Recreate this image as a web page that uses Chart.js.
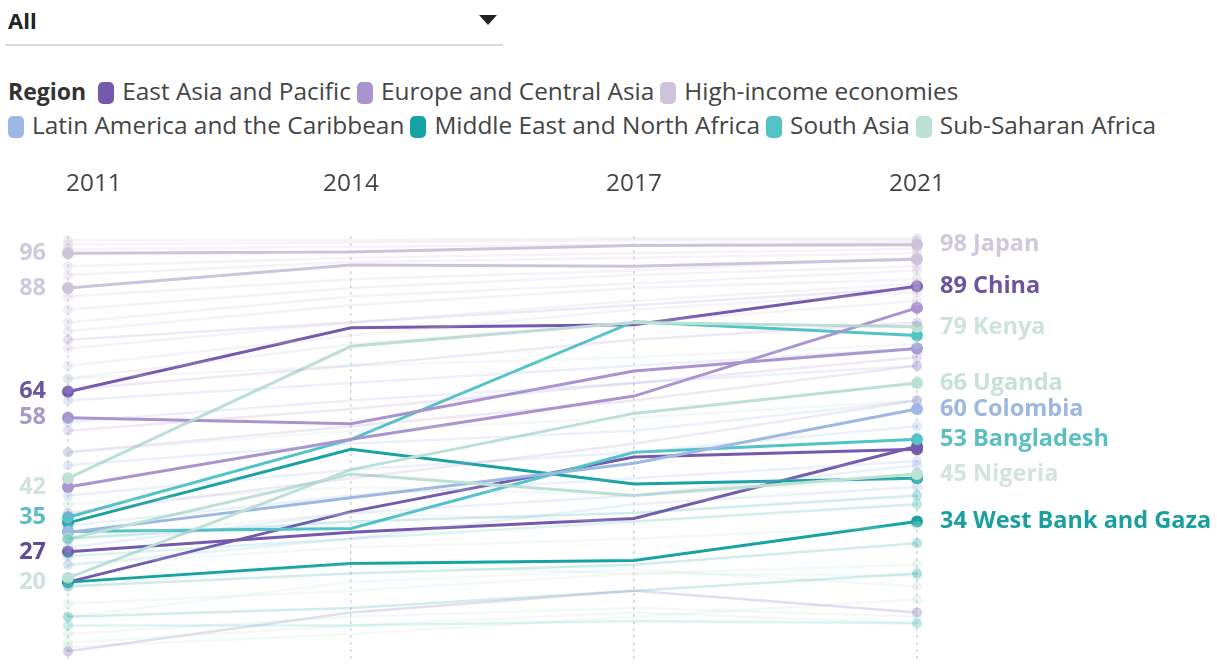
<!DOCTYPE html>
<html>
<head>
<meta charset="utf-8">
<script src="https://cdn.jsdelivr.net/npm/chart.js@4.4.0/dist/chart.umd.min.js"></script>
<style>
  body { margin: 0; background: #fff; font-family: "Open Sans", sans-serif; width: 1217px; height: 666px; overflow: hidden; position: relative; }
  #chart { position: absolute; left: 0; top: 0; }
  .select { position: absolute; left: 5px; top: 0; width: 498px; height: 44px; border-bottom: 2px solid #dcdcdc; }
  .select span { position: absolute; left: 3px; top: 5px; font-weight: 700; font-size: 22px; color: #222; }
  .caret { position: absolute; right: 6px; top: 15px; width: 0; height: 0; border-left: 9px solid transparent; border-right: 9px solid transparent; border-top: 10px solid #222; }
  .legend { position: absolute; left: 8px; top: 74px; width: 1209px; font-size: 24.4px; color: #444; line-height: 34px; }
  .legend b { color: #333; margin-right: 12px; font-size: 23px; }
  .item { display: inline-block; white-space: nowrap; margin-right: 6px; }
  .sw { display: inline-block; width: 16px; height: 22px; border-radius: 5px; vertical-align: -4px; margin-right: 8px; }
</style>
</head>
<body>
<div class="select"><span>All</span><div class="caret"></div></div>
<div class="legend" id="legend"></div>
<canvas id="chart" width="1217" height="666"></canvas>
<script>
// categories
const years = ['2011', '2014', '2017', '2021'];
const regions = ['East Asia and Pacific', 'Europe and Central Asia', 'High-income economies',
  'Latin America and the Caribbean', 'Middle East and North Africa', 'South Asia', 'Sub-Saharan Africa'];
const regionColors = ['#7459ad', '#ab93cf', '#cdc3dc', '#9db8e4', '#17a2a3', '#52c3c7', '#bde0d5'];

// highlighted countries (values per year)
const japan = [96, 96.3, 97.8, 98];
const highIncome2 = [88, 93.3, 93, 94.6];
const china = [64, 78.8, 79.5, 88.4];
const eastAsia2 = [27, 31.5, 34.7, 51.4];
const eastAsia3 = [20, 36.3, 48.9, 50.7];
const europe1 = [58, 56.6, 68.8, 74];
const europe2 = [42, 53, 63, 83.4];
const southAsia1 = [35, 53, 80.2, 77];
const bangladesh = [31.7, 32.4, 50, 53];
const mena1 = [33.7, 50.7, 42.7, 44];
const westBank = [20, 24.3, 25, 34];
const kenya = [44, 74.5, 80, 79];
const uganda = [21, 46, 59, 66];
const nigeria = [30, 45, 40, 45];
const colombia = [31.5, 39.5, 47.5, 60];

// left value labels (2011)
const leftLabelValues = [96, 88, 64, 58, 42, 35, 27, 20];
const leftLabelColors = ['#d0c8dd', '#d0c8dd', '#6a559e', '#a999c6', '#cde3dc', '#5bbfc2', '#5e4a96', '#cde3dc'];

// faint background countries
const otherSeries = [
  [99, 99, 99.5, 99.5], [98, 98.5, 99, 99], [97, 97.5, 98, 98.5], [93, 95, 96, 97],
  [91, 94, 95, 96], [86, 90, 92, 95], [83, 88, 91, 93], [80, 86, 89, 92],
  [78, 84, 88, 90], [74, 80, 85, 89], [70, 77, 83, 87], [67, 75, 80, 85],
  [76, 80, 84, 88], [64.5, 70, 76, 80], [55, 60, 66, 72], [50, 56, 62, 70], [36, 44, 52, 62],
  [62, 66, 70, 74], [57, 62, 66, 70], [47, 52, 55, 62], [40, 46, 50, 56], [33, 40, 44, 48],
  [28, 36, 40, 47], [24, 30, 38, 42],
  [30, 34, 36, 40], [19, 22, 24, 29], [12, 14, 18, 22],
  [26, 30, 34, 38], [10, 10, 11, 10.5],
  [67, 70, 72, 75], [50, 55, 58, 62], [38, 42, 40, 44], [30, 36, 34, 38], [24, 28, 30, 33],
  [19, 24, 22, 21.5], [15, 18, 22, 24], [12, 20, 23, 19], [8, 12, 14, 12], [6, 10, 13, 10.5],
  [4, 13, 18, 13], [5, 8, 12, 16]
];
const otherRegions = [2, 2, 2, 2, 2, 2, 2, 2, 2, 2, 2, 2, 1, 1, 1, 1, 1, 3, 3, 3, 3, 3, 3, 3,
  4, 4, 4, 5, 5, 6, 6, 6, 6, 6, 6, 6, 6, 6, 6, 0, 6];

const highlighted = [
  { data: japan, region: 2, label: '98 Japan', labelColor: '#d0c8dd' },
  { data: highIncome2, region: 2 },
  { data: kenya, region: 6, label: '79 Kenya', labelColor: '#cde3dc' },
  { data: uganda, region: 6, label: '66 Uganda', labelColor: '#c8e1d7' },
  { data: nigeria, region: 6, label: '45 Nigeria', labelColor: '#d3e3de' },
  { data: colombia, region: 3, label: '60 Colombia', labelColor: '#9db8e0' },
  { data: europe1, region: 1 },
  { data: europe2, region: 1 },
  { data: southAsia1, region: 5 },
  { data: bangladesh, region: 5, label: '53 Bangladesh', labelColor: '#5bbfc2' },
  { data: mena1, region: 4 },
  { data: westBank, region: 4, label: '34 West Bank and Gaza', labelColor: '#1a9fa0' },
  { data: eastAsia2, region: 0 },
  { data: eastAsia3, region: 0 },
  { data: china, region: 0, label: '89 China', labelColor: '#6a559e' }
];

// legend
const legendEl = document.getElementById('legend');
let html = '<b>Region</b>';
regions.forEach((r, i) => {
  html += '<span class="item"><span class="sw" style="background:' + regionColors[i] + '"></span>' + r + '</span>';
  if (i === 2) html += '<br>';
});
legendEl.innerHTML = html;

function fade(hex, a) {
  const n = parseInt(hex.slice(1), 16);
  return 'rgba(' + (n >> 16) + ',' + ((n >> 8) & 255) + ',' + (n & 255) + ',' + a + ')';
}

const datasets = [];
otherSeries.forEach((s, i) => {
  const c = regionColors[otherRegions[i]];
  datasets.push({
    data: s,
    borderColor: fade(c, 0.2),
    borderWidth: 2.5,
    pointRadius: [5, 0, 0, 5],
    pointBackgroundColor: fade(c, 0.3),
    pointBorderWidth: 0,
    tension: 0,
    clip: false
  });
});
highlighted.forEach(h => {
  const c = regionColors[h.region];
  datasets.push({
    data: h.data,
    label: h.label,
    labelColor: h.labelColor,
    borderColor: c,
    borderWidth: 3,
    pointRadius: [6, 0, 0, 6],
    pointBackgroundColor: c,
    pointBorderWidth: 0,
    tension: 0,
    clip: false
  });
});

const labelPlugin = {
  id: 'labelPlugin',
  afterDatasetsDraw(chart) {
    const ctx = chart.ctx;
    const x = chart.scales.x, y = chart.scales.y;
    ctx.save();
    // year labels
    ctx.font = '24.4px "Open Sans"';
    ctx.fillStyle = '#444';
    ctx.textBaseline = 'middle';
    years.forEach((yr, i) => {
      const px = x.getPixelForValue(i);
      ctx.textAlign = i === 0 ? 'left' : 'center';
      ctx.fillText(yr, i === 0 ? px - 2 : px, 184);
    });
    // left labels
    ctx.font = 'bold 23.5px "Open Sans"';
    ctx.textAlign = 'right';
    leftLabelValues.forEach((v, i) => {
      ctx.fillStyle = leftLabelColors[i];
      ctx.fillText(String(v), 46, y.getPixelForValue(v));
    });
    // right labels
    ctx.textAlign = 'left';
    const rx = x.getPixelForValue(years.length - 1) + 23;
    chart.data.datasets.forEach(ds => {
      if (!ds.label) return;
      ctx.fillStyle = ds.labelColor;
      ctx.fillText(ds.label, rx, y.getPixelForValue(ds.data[ds.data.length - 1]));
    });
    ctx.restore();
  }
};

new Chart(document.getElementById('chart'), {
  type: 'line',
  data: { labels: years, datasets: datasets },
  options: {
    responsive: false,
    animation: false,
    layout: { padding: { left: 68, right: 300, top: 236, bottom: 1 } },
    plugins: { legend: { display: false }, tooltip: { enabled: false } },
    scales: {
      x: {
        offset: false,
        grid: { color: '#d4d4d4', lineWidth: 1.5, drawTicks: false },
        border: { display: false, dash: [3, 4] },
        ticks: { display: false }
      },
      y: { display: false, min: 2, max: 100 }
    }
  },
  plugins: [labelPlugin]
});
</script>
</body>
</html>
